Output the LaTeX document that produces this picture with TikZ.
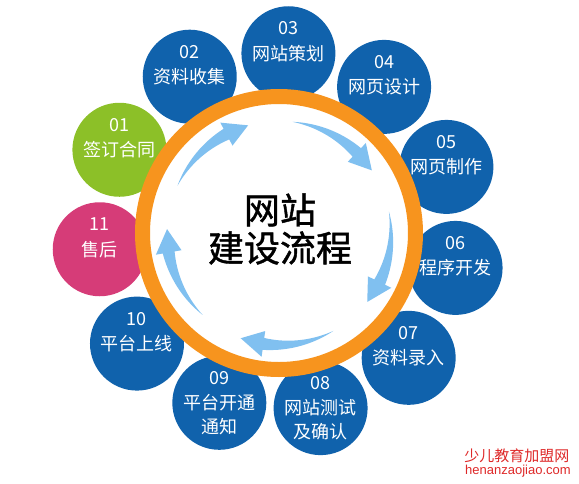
\documentclass[tikz,border=0pt]{standalone}
\usepackage{fontspec}
\usepackage{tikz}
\usetikzlibrary{calc}
\newfontfamily\cjk{Noto Sans CJK SC}
\newfontfamily\cjkheavy{Noto Sans CJK SC}[FakeBold=1.2]
\newfontfamily\latinsans{Liberation Sans}
\definecolor{bubbleblue}{RGB}{16,98,172}
\definecolor{bubblegreen}{RGB}{140,192,40}
\definecolor{bubblepink}{RGB}{214,60,120}
\definecolor{ringorange}{RGB}{247,148,30}
\definecolor{arrowblue}{RGB}{128,192,240}
\definecolor{markred}{RGB}{222,40,40}
\tikzset{
	bubble/.style={circle, minimum size=94pt, inner sep=0pt},
	numtext/.style={text=white, inner sep=0pt, font=\cjk\fontsize{18}{20}\selectfont},
	steptext/.style={text=white, inner sep=0pt, align=center, font=\cjk\fontsize{18}{24}\selectfont},
	ring/.style={draw=ringorange, line width=15pt, fill=white},
	flowarrow/.style={fill=arrowblue},
	titletext/.style={inner sep=0pt, align=center, font=\cjkheavy\fontsize{36}{38}\selectfont}
}
\begin{document}
\begin{tikzpicture}[x=1pt,y=1pt]
		\useasboundingbox (-279,-250) rectangle (300,233);

		% 外圈
		\foreach \i/\n/\txt/\col/\dy in {0/03/网站策划/bubbleblue/0, 1/04/网页设计/bubbleblue/0,
			2/05/网页制作/bubbleblue/0, 3/06/程序开发/bubbleblue/0, 4/07/资料录入/bubbleblue/0,
			5/08/网站测试\\及确认/bubbleblue/-12, 6/09/平台开通\\通知/bubbleblue/-12,
			7/10/平台上线/bubbleblue/0, 8/11/售后/bubblepink/0,
			9/01/签订合同/bubblegreen/0, 10/02/资料收集/bubbleblue/0} {
			\node[bubble, fill=\col] (b\n) at ({87-\i*360/11}:180) {};
			\node[numtext] (n\n) at ([yshift=25pt]b\n.center) {\n};
			\node[steptext] (t\n) at ([yshift=\dy pt]b\n.center) {\txt};
		}

		\draw[ring] (0,0) circle (136.5);

		% 箭头
		\foreach \s [evaluate=\s as \neck using \s-37, evaluate=\s as \tip using \s-49] in {155,83,11,-61,-133} {
			\fill[flowarrow] plot[domain=\s:\neck, samples=20] (\x:{112+6*(\s-\x)/37})
				-- (\neck:125) -- (\tip:112) -- (\neck:99)
				-- plot[domain=\neck:\s, samples=20] (\x:{112-6*(\s-\x)/37}) -- cycle;
		}

		\node[titletext] (title) at (1,4) {网站\\建设流程};

		\node[text=markred, inner sep=0pt, font=\cjk\fontsize{15}{16}\selectfont] (wm1) at (238,-223) {少儿教育加盟网};
		\node[text=markred, inner sep=0pt, font=\latinsans\fontsize{13}{14}\selectfont] (wm2) at (239,-238) {henanzaojiao.com};
	\end{tikzpicture}
\end{document}
